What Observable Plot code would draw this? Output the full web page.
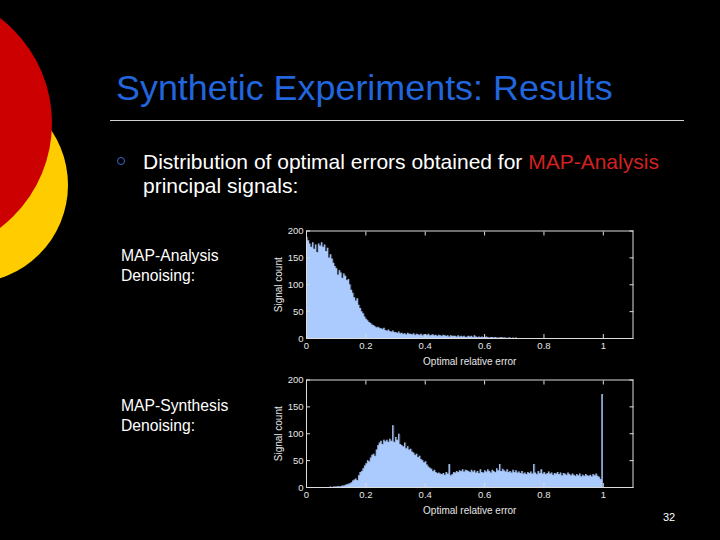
<!DOCTYPE html>
<html>
<head>
<meta charset="utf-8">
<script src="https://cdn.jsdelivr.net/npm/d3@7"></script>
<script src="https://cdn.jsdelivr.net/npm/@observablehq/plot@0.6"></script>
<style>
  html, body { margin: 0; padding: 0; background: #000; }
  #slide { position: relative; width: 720px; height: 540px; overflow: hidden; background: #000;
           font-family: "Liberation Sans", Arial, Helvetica, sans-serif; }
  .t { position: absolute; white-space: nowrap; line-height: 1; }
  .deco { position: absolute; border-radius: 50%; }
  .plotbox { position: absolute; }
</style>
</head>
<body>
<div id="slide">
  <div class="deco" style="left:-128px; top:87px; width:196px; height:196px; background:#ffcc00;"></div>
  <div class="deco" style="left:-212px; top:-9px; width:264px; height:264px; background:#cc0000;"></div>

  <div class="t" style="left:116px; top:71.4px; font-size:35.9px; color:#2266dd;">Synthetic Experiments: Results</div>
  <div style="position:absolute; left:110px; top:120px; width:574px; height:1px; background:#d0d0d0;"></div>

  <div style="position:absolute; left:116.5px; top:157px; width:6px; height:6px; border:1px solid #3a66cc; border-radius:50%;"></div>
  <div class="t" style="left:143px; top:151.2px; font-size:21px; color:#ffffff;">Distribution of optimal errors obtained for <span style="color:#d42020;">MAP-Analysis</span></div>
  <div class="t" style="left:143px; top:174.9px; font-size:21px; color:#ffffff;">principal signals:</div>

  <div class="t" style="left:121px; top:247.5px; font-size:15.7px; color:#ffffff;">MAP-Analysis</div>
  <div class="t" style="left:121px; top:268.3px; font-size:15.7px; color:#ffffff;">Denoising:</div>
  <div class="t" style="left:121px; top:397.5px; font-size:15.7px; color:#ffffff;">MAP-Synthesis</div>
  <div class="t" style="left:121px; top:417.8px; font-size:15.7px; color:#ffffff;">Denoising:</div>

  <div class="t" style="left:663px; top:511.7px; font-size:11px; color:#ffffff;">32</div>

  <div id="p1" class="plotbox" style="left:262px; top:222px;"></div>
  <div id="p2" class="plotbox" style="left:262px; top:370px;"></div>
</div>
<script>
// Histogram bin width (errors binned into 200 bins over [0, 1])
const binWidth = 0.005;

// Axis ticks
const xTicks = [0, 0.2, 0.4, 0.6, 0.8, 1];
const xTickLabels = ["0", "0.2", "0.4", "0.6", "0.8", "1"];
const yTicks = [0, 50, 100, 150, 200];
const yTickLabels = ["0", "50", "100", "150", "200"];

// MAP-Analysis denoising: signal counts per bin
const analysisCounts = [
  188, 182, 176, 170, 178, 166, 174, 160, 176, 172,
  178, 170, 174, 162, 168, 150, 156, 148, 140, 134,
  130, 118, 126, 122, 112, 120, 116, 108, 110, 100,
  90, 84, 76, 70, 74, 62, 56, 50, 46, 40,
  36, 33, 30, 28, 25, 24, 22, 20, 21, 19,
  18, 17, 19, 15, 14, 16, 13, 12, 14, 11,
  11, 10, 12, 9, 10, 8, 9, 7, 10, 8,
  8, 7, 9, 6, 8, 7, 6, 8, 5, 7,
  7, 6, 8, 5, 6, 7, 5, 6, 4, 6,
  5, 4, 6, 5, 4, 5, 3, 5, 4, 4,
  4, 3, 5, 3, 4, 3, 4, 2, 3, 4,
  3, 4, 2, 5, 3, 2, 3, 2, 3, 2,
  2, 3, 2, 1, 2, 2, 1, 2, 1, 1,
  1, 2, 1, 1, 1, 0, 1, 1, 0, 1,
  0, 1, 0, 0, 0, 0, 0, 0, 0, 0,
  0, 0, 0, 0, 0, 0, 0, 0, 0, 0,
  0, 0, 0, 0, 0, 0, 0, 0, 0, 0,
  0, 0, 0, 0, 0, 0, 0, 0, 0, 0,
  0, 0, 0, 0, 0, 0, 0, 0, 0, 0,
  0, 0, 0, 0, 0, 0, 0, 0, 0, 0
];

// MAP-Synthesis denoising: signal counts per bin
const synthesisCounts = [
  0, 0, 0, 0, 0, 0, 0, 0, 0, 0,
  0, 0, 0, 0, 0, 0, 1, 0, 1, 1,
  1, 2, 1, 2, 3, 3, 4, 5, 6, 7,
  9, 12, 14, 16, 13, 22, 28, 30, 35, 40,
  44, 50, 48, 55, 60, 62, 58, 70, 78, 83,
  86, 80, 88, 85, 88, 84, 90, 86, 115, 84,
  93, 88, 99, 80, 78, 76, 83, 72, 76, 70,
  71, 66, 64, 60, 62, 56, 58, 52, 50, 46,
  48, 42, 38, 36, 34, 30, 32, 28, 26, 27,
  25, 24, 26, 23, 28, 25, 43, 22, 24, 28,
  27, 30, 28, 31, 30, 33, 29, 32, 31, 30,
  28, 32, 29, 31, 27, 30, 26, 33, 28, 27,
  31, 29, 33, 30, 27, 32, 30, 28, 35, 31,
  43, 30, 34, 31, 29, 33, 28, 30, 27, 32,
  28, 31, 27, 29, 26, 30, 25, 27, 24, 28,
  26, 29, 25, 43, 27, 24, 30, 26, 33, 25,
  28, 24, 26, 29, 25, 27, 23, 26, 25, 28,
  24, 27, 22, 26, 25, 23, 27, 24, 22, 25,
  23, 21, 24, 22, 25, 20, 23, 21, 24, 22,
  21, 23, 20, 24, 22, 25, 21, 19, 15, 173
];

const xLabel = "Optimal relative error";
const yLabel = "Signal count";

function histogram(counts, height, marginTop) {
  // step outline: one point per bin start, plus the closing edge of the last bin
  const steps = counts.map((c, i) => ({ x: i * binWidth, y: c }));
  steps.push({ x: counts.length * binWidth, y: counts[counts.length - 1] });
  const axisColor = "#dcdcdc";
  return Plot.plot({
    width: 376,
    height: height,
    marginLeft: 44,
    marginRight: 5.5,
    marginTop: marginTop,
    marginBottom: 30,
    style: { background: "#000", color: "#e6e6e6", fontFamily: "'Liberation Sans', Arial, sans-serif", fontSize: "9.5px" },
    x: { domain: [0, 1.1] },
    y: { domain: [0, 200] },
    marks: [
      Plot.areaY(steps, { x: "x", y: "y", curve: "step-after", fill: "#abcafd" }),
      Plot.lineY(steps, { x: "x", y: "y", curve: "step-after", stroke: "#8193b4", strokeWidth: 0.6, strokeOpacity: 0.55 }),
      Plot.axisX({ ticks: xTicks, tickSize: -4, tickPadding: 8, stroke: axisColor, tickFormat: (d, i) => xTickLabels[i],
                   label: null }),
      Plot.axisX({ ticks: [], label: xLabel, labelAnchor: "center", labelArrow: "none", labelOffset: 26, fontSize: 10 }),
      Plot.axisX({ anchor: "top", ticks: xTicks, tickSize: -4, stroke: axisColor, tickFormat: () => "", label: null }),
      Plot.axisY({ ticks: yTicks, tickSize: -4, tickPadding: 7, stroke: axisColor, tickFormat: (d, i) => yTickLabels[i],
                   label: null }),
      Plot.axisY({ ticks: [], label: yLabel, labelAnchor: "center", labelArrow: "none", labelOffset: 32, fontSize: 10 }),
      Plot.axisY({ anchor: "right", ticks: yTicks, tickSize: -4, stroke: axisColor, tickFormat: () => "", label: null }),
      Plot.frame({ stroke: axisColor, strokeWidth: 1 })
    ]
  });
}

document.getElementById("p1").appendChild(histogram(analysisCounts, 146, 8.5));
document.getElementById("p2").appendChild(histogram(synthesisCounts, 147, 9.5));
</script>
</body>
</html>
